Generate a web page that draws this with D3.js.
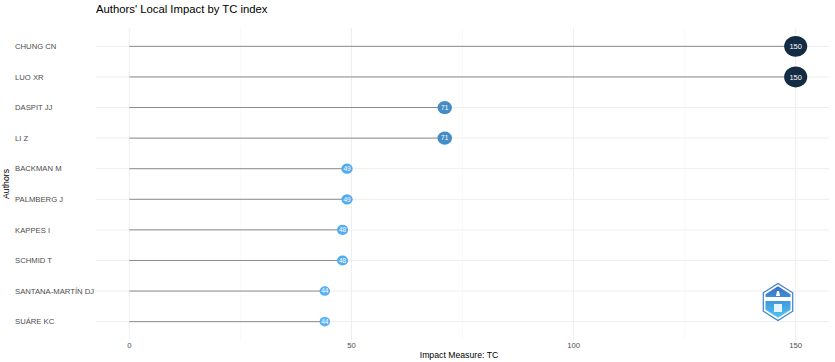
<!DOCTYPE html>
<html>
<head>
<meta charset="utf-8">
<script src="https://cdn.jsdelivr.net/npm/d3@7"></script>
<style>
  body { margin: 0; background: #fff; }
  text { font-family: "Liberation Sans", Arial, sans-serif; }
</style>
</head>
<body>
<svg width="835" height="362"></svg>
<script>
const svg = d3.select("svg");
const width = +svg.attr("width");
const height = +svg.attr("height");

// Data
const authors = ["CHUNG CN", "LUO XR", "DASPIT JJ", "LI Z", "BACKMAN M",
  "PALMBERG J", "KAPPES I", "SCHMID T", "SANTANA-MARTÍN DJ", "SUÁRE KC"];
const tcValues = [150, 150, 71, 71, 49, 49, 48, 48, 44, 44];
const xTicks = [0, 50, 100, 150];
const xMinorTicks = [25, 75, 125];

// Panel area
const panel = { left: 96, right: 829, top: 28, bottom: 340 };

const x = d3.scaleLinear()
    .domain([-7.5, 157.5])
    .range([panel.left, panel.right]);

const y = d3.scalePoint()
    .domain(authors)
    .range([panel.top, panel.bottom])
    .padding(0.6);

const color = d3.scaleLinear()
    .domain([d3.min(tcValues), d3.max(tcValues)])
    .range(["#56B1F7", "#132B43"])
    .interpolate(d3.interpolateLab);

const size = d3.scaleSqrt()
    .domain([d3.min(tcValues), d3.max(tcValues)])
    .range([5, 11]);

// Grid lines
svg.append("g").selectAll("line.minor")
    .data(xMinorTicks)
    .join("line")
    .attr("x1", d => x(d)).attr("x2", d => x(d))
    .attr("y1", panel.top).attr("y2", panel.bottom)
    .attr("stroke", "#f5f5f5").attr("stroke-width", 0.6);

svg.append("g").selectAll("line.major")
    .data(xTicks)
    .join("line")
    .attr("x1", d => x(d)).attr("x2", d => x(d))
    .attr("y1", panel.top).attr("y2", panel.bottom)
    .attr("stroke", "#eeeeee").attr("stroke-width", 1);

svg.append("g").selectAll("line")
    .data(authors)
    .join("line")
    .attr("x1", panel.left).attr("x2", panel.right)
    .attr("y1", d => y(d)).attr("y2", d => y(d))
    .attr("stroke", "#eeeeee").attr("stroke-width", 1);

// Lollipop sticks
const rows = authors.map((a, i) => ({ author: a, tc: tcValues[i] }));

svg.append("g").selectAll("line")
    .data(rows)
    .join("line")
    .attr("x1", x(0)).attr("x2", d => x(d.tc))
    .attr("y1", d => y(d.author)).attr("y2", d => y(d.author))
    .attr("stroke", "#8c8c8c").attr("stroke-width", 1);

// Points
svg.append("g").selectAll("ellipse")
    .data(rows)
    .join("ellipse")
    .attr("cx", d => x(d.tc))
    .attr("cy", d => y(d.author))
    .attr("rx", d => size(d.tc) * 1.05)
    .attr("ry", d => size(d.tc) * 0.95)
    .attr("fill", d => color(d.tc));

svg.append("g").selectAll("text")
    .data(rows)
    .join("text")
    .attr("x", d => x(d.tc))
    .attr("y", d => y(d.author))
    .attr("dy", "0.35em")
    .attr("text-anchor", "middle")
    .attr("font-size", d => d.tc > 100 ? 7.5 : 6.5)
    .attr("fill", "#fff")
    .text(d => d.tc);

// Axis labels
svg.append("g").selectAll("text")
    .data(authors)
    .join("text")
    .attr("x", 15)
    .attr("y", d => y(d))
    .attr("dy", "0.35em")
    .attr("font-size", 7.7)
    .attr("fill", "#4d4d4d")
    .text(d => d);

svg.append("g").selectAll("text")
    .data(xTicks)
    .join("text")
    .attr("x", d => x(d))
    .attr("y", 348)
    .attr("text-anchor", "middle")
    .attr("font-size", 7.7)
    .attr("fill", "#4d4d4d")
    .text(d => d);

// Titles
svg.append("text")
    .attr("x", 96).attr("y", 13)
    .attr("font-size", 11.3)
    .attr("fill", "#000")
    .text("Authors' Local Impact by TC index");

svg.append("text")
    .attr("x", 459)
    .attr("y", 358)
    .attr("text-anchor", "middle")
    .attr("font-size", 8.7)
    .attr("fill", "#000")
    .text("Impact Measure: TC");

svg.append("text")
    .attr("transform", `translate(9,${(panel.top + panel.bottom) / 2}) rotate(-90)`)
    .attr("text-anchor", "middle")
    .attr("font-size", 8.7)
    .attr("fill", "#000")
    .text("Authors");

// Logo (hexagon badge), bottom right
const logo = svg.append("g").attr("transform", "translate(778,302)");
const defs = svg.append("defs");
const grad = defs.append("linearGradient")
    .attr("id", "logoGrad").attr("x1", 0).attr("y1", 0).attr("x2", 0).attr("y2", 1);
grad.append("stop").attr("offset", "0%").attr("stop-color", "#3a6fc4");
grad.append("stop").attr("offset", "100%").attr("stop-color", "#4cc6f2");

const hex = d3.range(6).map(k => {
  const a = Math.PI / 3 * k - Math.PI / 2;
  return [17 * Math.cos(a), 18.5 * Math.sin(a)];
});
logo.append("path")
    .attr("d", d3.line()(hex) + "Z")
    .attr("fill", "#fff")
    .attr("stroke", "#3a7fd0").attr("stroke-width", 1.2);
logo.append("path")
    .attr("d", d3.line()(hex.map(p => [p[0] * 0.85, p[1] * 0.85])) + "Z")
    .attr("fill", "url(#logoGrad)");
logo.append("rect")
    .attr("x", -14).attr("y", -5).attr("width", 28).attr("height", 4)
    .attr("fill", "#fff");
logo.append("rect")
    .attr("x", -4).attr("y", 2).attr("width", 8).attr("height", 8)
    .attr("fill", "#e6f6ff");
logo.append("path")
    .attr("d", "M-2,-6 L2,-6 L1,-11 L-1,-11 Z")
    .attr("fill", "#fff");
</script>
</body>
</html>
